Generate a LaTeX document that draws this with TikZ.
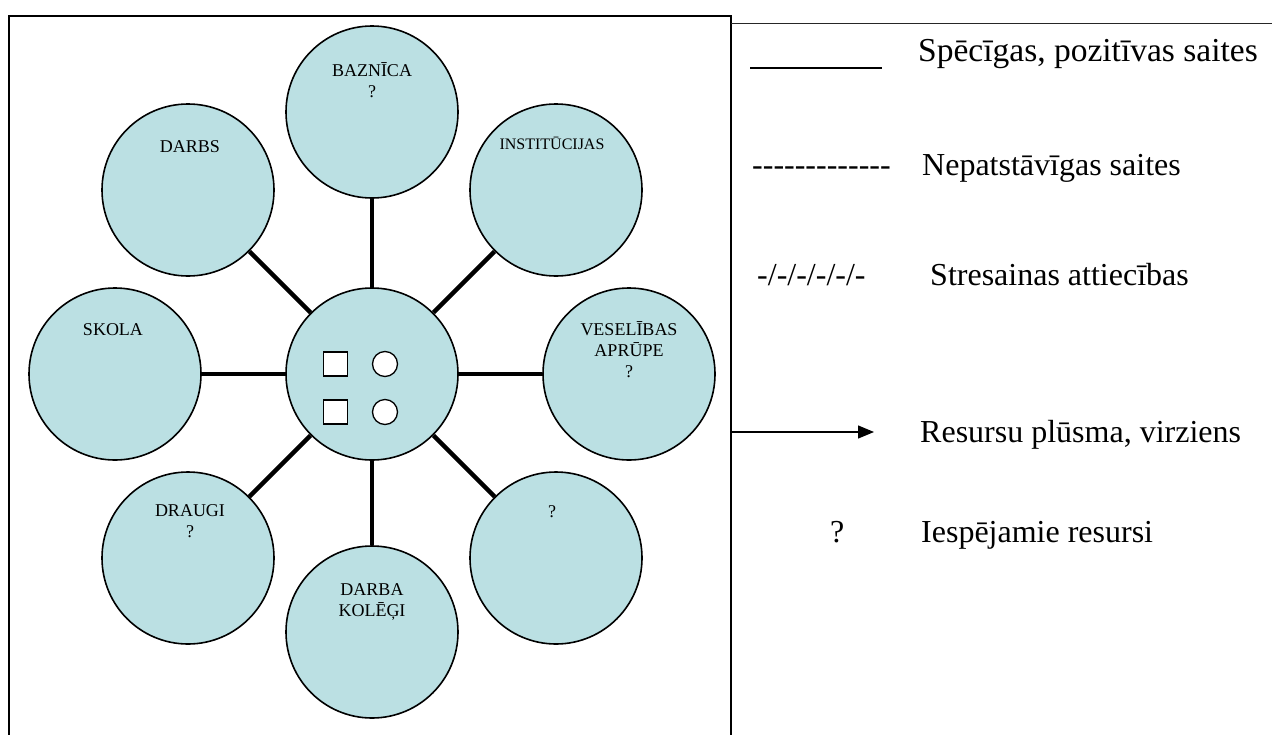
\documentclass[tikz,border=0pt]{standalone}
\usepackage{fontspec}
\setmainfont{Liberation Serif}
\usetikzlibrary{arrows.meta}
\definecolor{bub}{RGB}{187,224,227}
\newcommand\hyph{\hbox{-}}
\begin{document}
\begin{tikzpicture}[x=1pt,y=-1pt,
  bubble/.style={circle,draw=black,line width=1.6pt,fill=bub,minimum size=172pt,inner sep=0pt},
  lab/.style={font=\fontsize{18}{21}\selectfont,align=center,anchor=base,inner sep=0pt},
  smalllab/.style={font=\fontsize{16}{19}\selectfont,align=center,anchor=base,inner sep=0pt},
  leg/.style={font=\fontsize{32}{38}\selectfont,anchor=base west,inner sep=0pt},
  spoke/.style={line width=4.5pt},
  icsq/.style={rectangle,draw=black,line width=1.3pt,fill=white,minimum size=24pt,inner sep=0pt},
  iccirc/.style={circle,draw=black,line width=1.3pt,fill=white,minimum size=25pt,inner sep=0pt},
  frame/.style={line width=1.5pt}
]
\useasboundingbox (0,0) rectangle (1272,734);
% frames
\draw[frame] (9,740) -- (9,16) -- (731,16) -- (731,740);
\draw[line width=1pt,black!85] (731,23) -- (1272,23);

% bubbles
\node[bubble] (c) at (372,374) {};
\node[bubble] (baz) at (372,112) {};
\node[bubble] (dar) at (188,190) {};
\node[bubble] (ins) at (556,190) {};
\node[bubble] (sko) at (115,374) {};
\node[bubble] (ves) at (629,374) {};
\node[bubble] (dra) at (188,558) {};
\node[bubble] (que) at (556,558) {};
\node[bubble] (kol) at (372,632) {};

% spokes
\foreach \n in {baz,dar,ins,sko,ves,dra,que,kol} \draw[spoke] (c) -- (\n);

% centre icons
\node[icsq] (sq1) at (335.5,364) {};
\node[icsq] (sq2) at (335.5,412) {};
\node[iccirc] (ci1) at (385,364) {};
\node[iccirc] (ci2) at (385,412) {};

% labels (base = baseline of last line)
\node[lab] (tbaz) at (372,97) {BAZNĪCA\\?};
\node[lab] (tdar) at (190,152) {DARBS};
\node[smalllab] (tins) at (552,149) {INSTITŪCIJAS};
\node[lab] (tsko) at (113,335) {SKOLA};
\node[lab] (tves) at (629,377) {VESELĪBAS\\APRŪPE\\?};
\node[lab] (tdra) at (190,537) {DRAUGI\\?};
\node[lab] (tque) at (552,517) {?};
\node[lab] (tkol) at (372,616) {DARBA\\KOLĒĢI};

% legend
\coordinate (u0) at (750,68);
\coordinate (u1) at (882,68);
\draw[line width=1.2pt] (u0) -- (u1);
\node[leg,font=\fontsize{33.5}{38}\selectfont] (l1) at (918,61) {Spēcīgas, pozitīvas saites};
\node[leg] (s2) at (752,175) {\hyph\hyph\hyph\hyph\hyph\hyph\hyph\hyph\hyph\hyph\hyph\hyph\hyph};
\node[leg] (l2) at (922,175) {Nepatstāvīgas saites};
\node[leg] (s3) at (757,285) {-/-/-/-/-/-};
\node[leg] (l3) at (930,285) {Stresainas attiecības};
\coordinate (a0) at (731,432);
\coordinate (a1) at (874,432);
\draw[line width=1.3pt,-{Triangle[length=16pt,width=13pt]}] (a0) -- (a1);
\node[leg] (l4) at (920,442) {Resursu plūsma, virziens};
\node[leg] (s5) at (830,542) {?};
\node[leg] (l5) at (921,542) {Iespējamie resursi};
\end{tikzpicture}
\end{document}
